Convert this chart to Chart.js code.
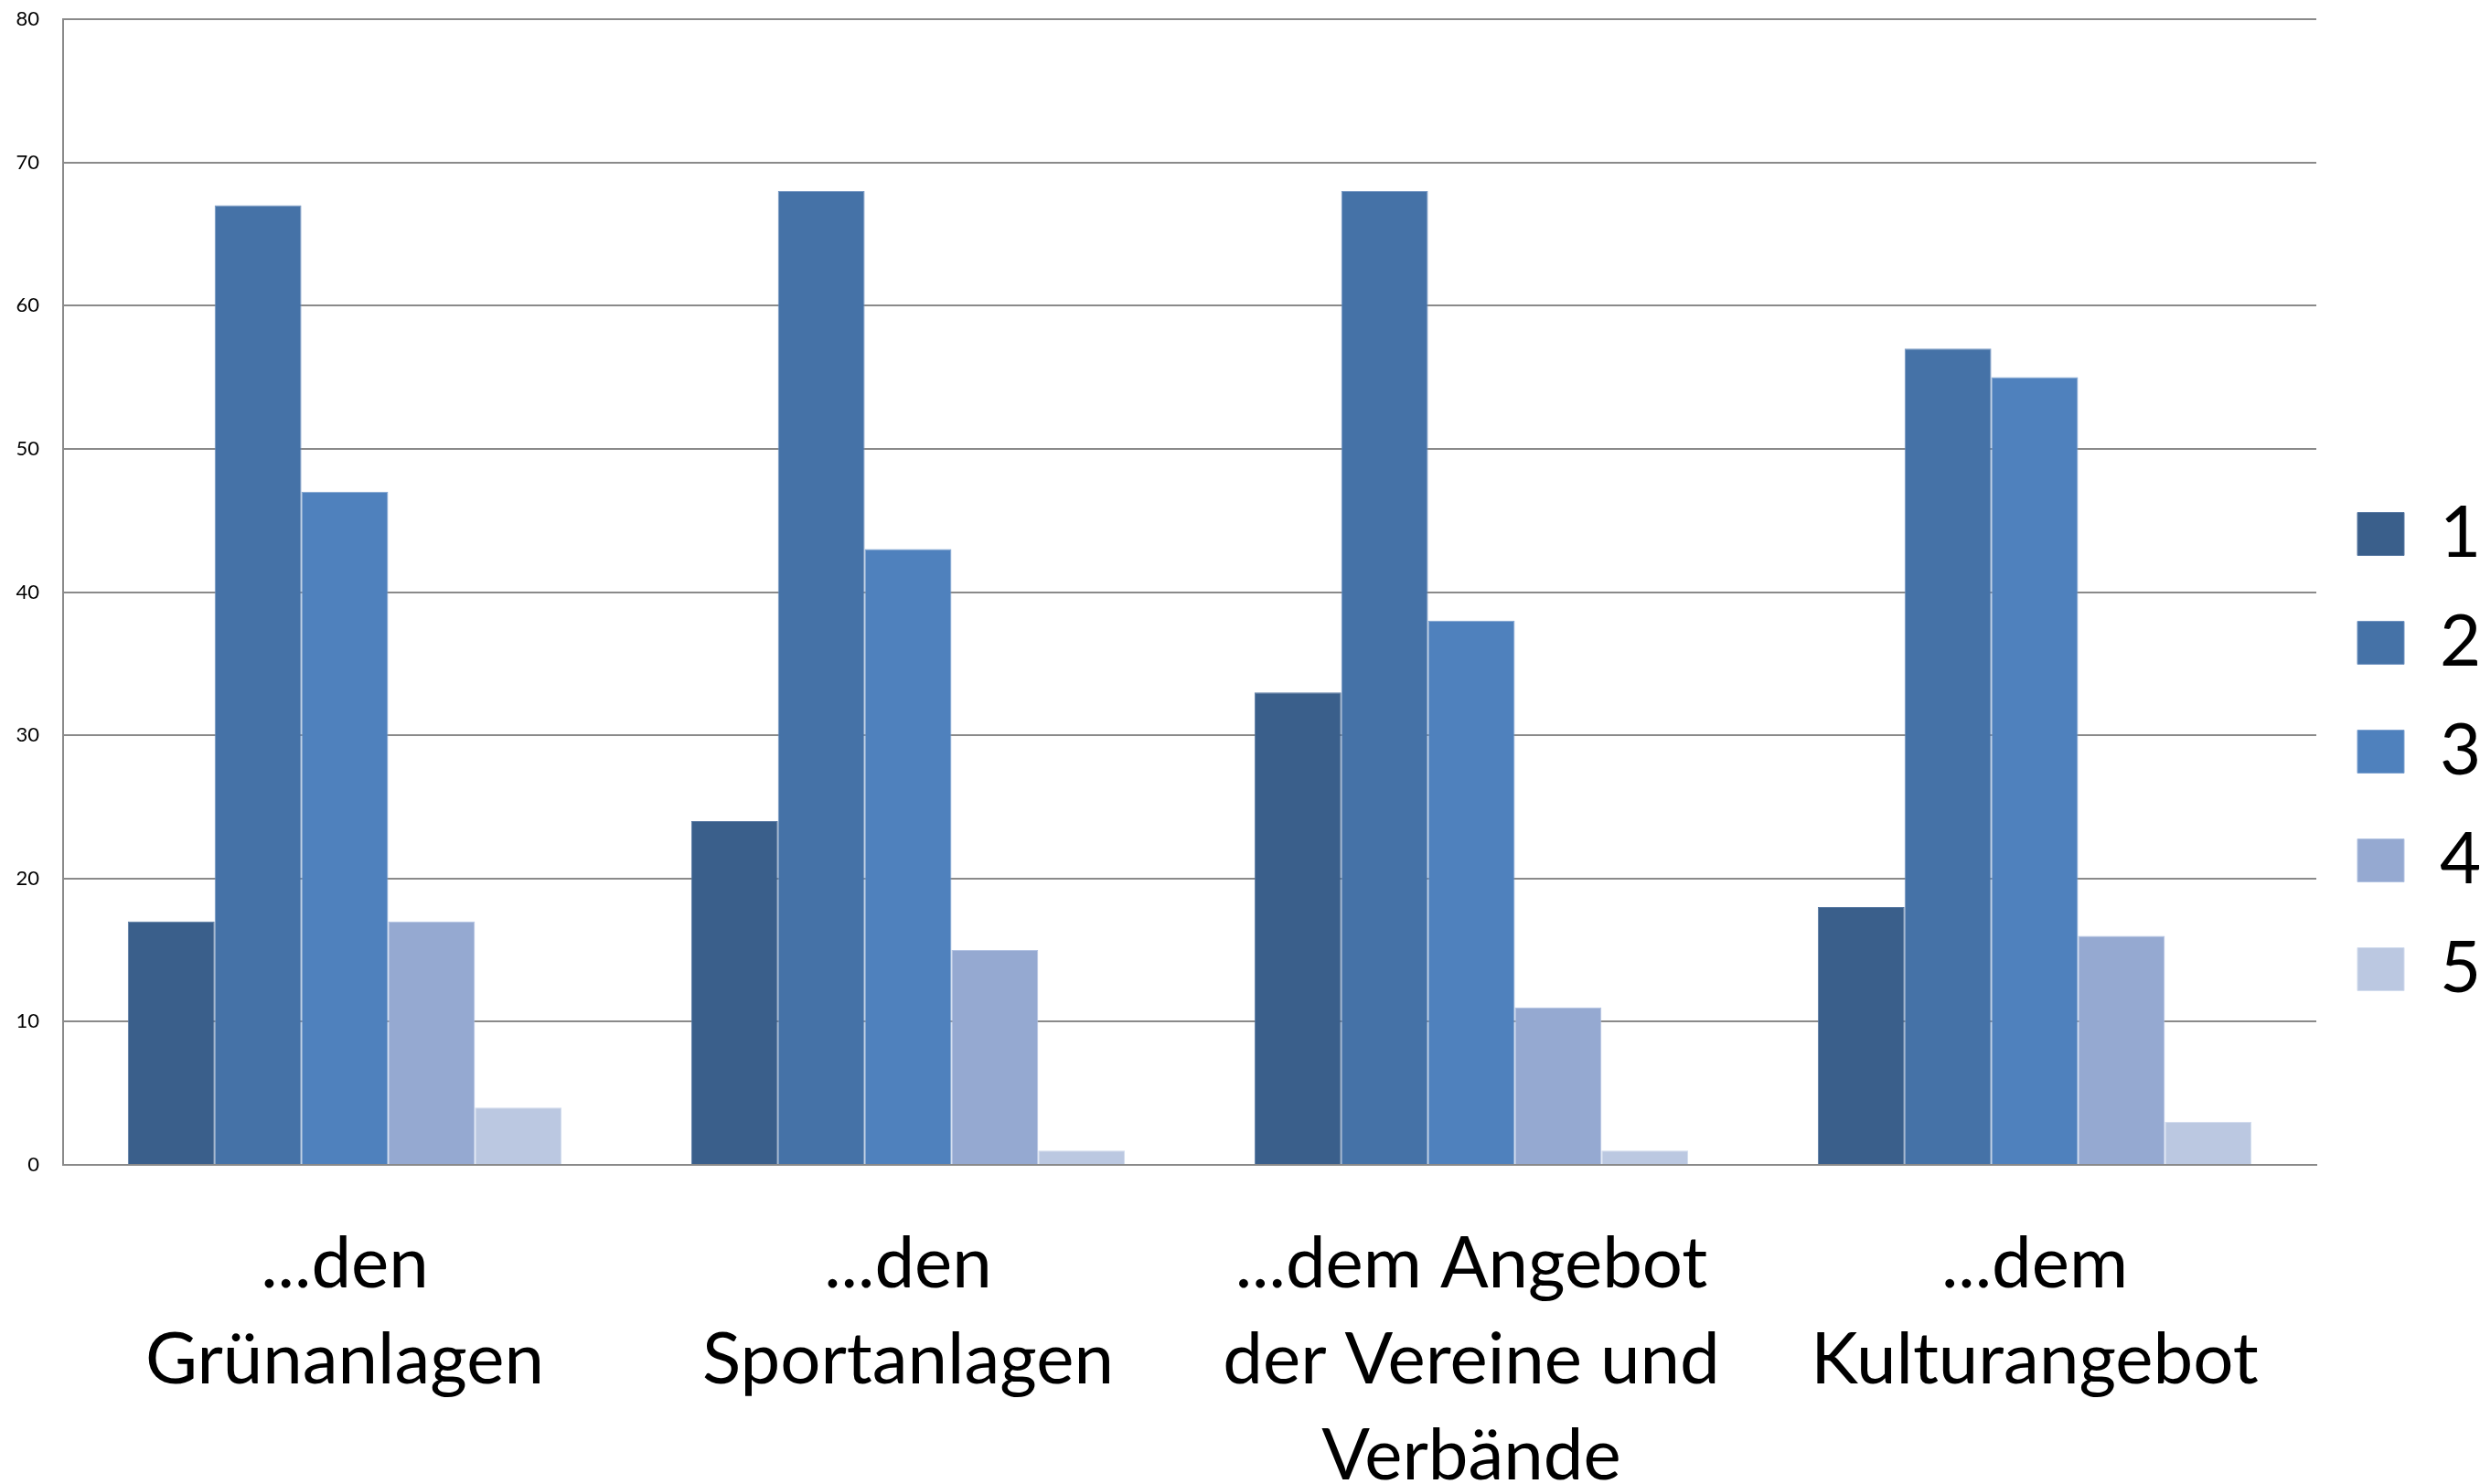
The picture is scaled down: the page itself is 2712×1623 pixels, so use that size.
<!DOCTYPE html>
<html lang="de">
<head>
<meta charset="utf-8">
<title>Zufriedenheit</title>
<script src="https://cdn.jsdelivr.net/npm/chart.js@4.4.1/dist/chart.umd.min.js"></script>
<style>
    html, body { margin: 0; padding: 0; background: #ffffff; }
    #chartBox { width: 2712px; height: 1623px; }
</style>
</head>
<body>
<div id="chartBox"><canvas id="barChart" width="2712" height="1623"></canvas></div>
<script>
// Categories (x axis, multi-line labels)
const categories = [
    ['...den', 'Grünanlagen'],
    ['...den', 'Sportanlagen'],
    ['...dem Angebot', 'der Vereine und', 'Verbände'],
    ['...dem', 'Kulturangebot']
];

// Series names (rating 1..5)
const seriesNames = ['1', '2', '3', '4', '5'];

// Values per series, one entry per category
const values1 = [17, 24, 33, 18];
const values2 = [67, 68, 68, 57];
const values3 = [47, 43, 38, 55];
const values4 = [17, 15, 11, 16];
const values5 = [4, 1, 1, 3];

// Y axis range
const yMin = 0;
const yMax = 80;
const yStep = 10;

const seriesColors = ['#3A5F8B', '#4572A7', '#4F81BD', '#95A9D1', '#BBC8E1'];
const seriesBorders = ['#5a7aa3', '#7193c0', '#7ea2d0', '#b3c3e2', '#d2dcee'];

const allValues = [values1, values2, values3, values4, values5];

const datasets = allValues.map((vals, i) => ({
    label: seriesNames[i],
    data: vals,
    backgroundColor: seriesColors[i],
    borderColor: seriesBorders[i],
    borderWidth: 1,
    categoryPercentage: 0.77,
    barPercentage: 1.0
}));

// small nudge so the legend boxes sit a bit further right, like the original
const legendNudge = {
    id: 'legendNudge',
    afterLayout(chart) {
        if (chart.legend) {
            chart.legend.left += 4;
            chart.legend.right += 4;
        }
    }
};

const gridGray = '#8a8a8a';

new Chart(document.getElementById('barChart').getContext('2d'), {
    type: 'bar',
    data: {
        labels: categories,
        datasets: datasets
    },
    options: {
        responsive: false,
        animation: false,
        devicePixelRatio: 1,
        layout: {
            padding: { top: 21, left: 0, right: 0, bottom: 0 }
        },
        plugins: {
            tooltip: { enabled: false },
            legend: {
                position: 'right',
                maxWidth: 179,
                labels: {
                    color: '#000000',
                    font: { family: 'Lato', size: 78 },
                    boxWidth: 51,
                    boxHeight: 47,
                    padding: 41
                }
            }
        },
        scales: {
            x: {
                grid: { display: false, drawTicks: false },
                border: { display: true, color: gridGray, width: 2 },
                ticks: {
                    color: '#000000',
                    font: { family: 'Lato', size: 78, lineHeight: 1.346 },
                    padding: 56,
                    maxRotation: 0,
                    autoSkip: false
                },
                afterFit: (scale) => { scale.height = 349; }
            },
            y: {
                min: yMin,
                max: yMax,
                grid: { color: gridGray, lineWidth: 2, drawTicks: false },
                border: { display: true, color: gridGray, width: 2 },
                ticks: {
                    stepSize: yStep,
                    color: '#000000',
                    font: { family: 'Lato', size: 22 },
                    padding: 26
                },
                afterFit: (scale) => {
                    scale.width = 69;
                    // tick padding would otherwise push the plot top down
                    scale.paddingTop = 0;
                }
            }
        }
    },
    plugins: [legendNudge]
});
</script>
</body>
</html>
